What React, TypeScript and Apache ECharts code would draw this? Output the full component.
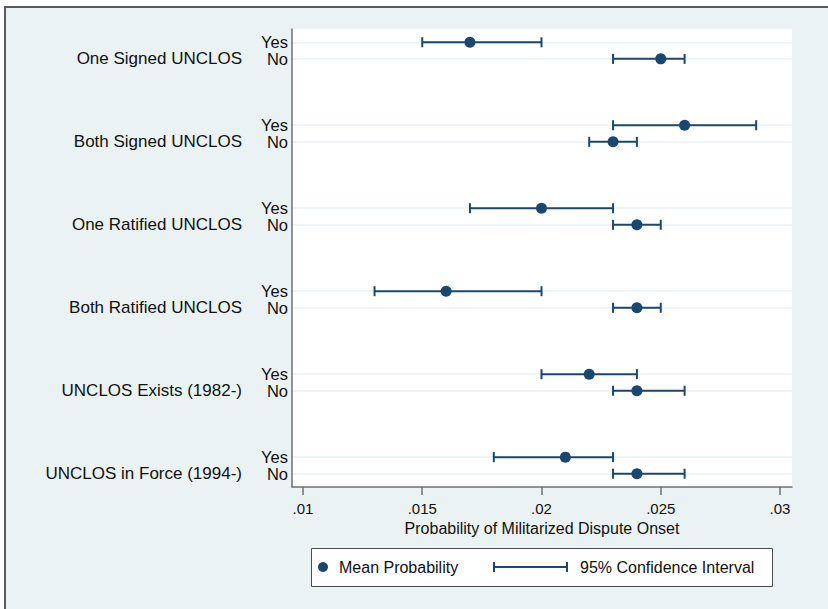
import React, { useEffect, useRef } from "react";
import * as echarts from "echarts";

const groups = [
  "One Signed UNCLOS",
  "Both Signed UNCLOS",
  "One Ratified UNCLOS",
  "Both Ratified UNCLOS",
  "UNCLOS Exists (1982-)",
  "UNCLOS in Force (1994-)",
];
const yesMean = [0.017, 0.026, 0.02, 0.016, 0.022, 0.021];
const yesLow = [0.015, 0.023, 0.017, 0.013, 0.02, 0.018];
const yesHigh = [0.02, 0.029, 0.023, 0.02, 0.024, 0.023];
const noMean = [0.025, 0.023, 0.024, 0.024, 0.024, 0.024];
const noLow = [0.023, 0.022, 0.023, 0.023, 0.023, 0.023];
const noHigh = [0.026, 0.024, 0.025, 0.025, 0.026, 0.026];
const xTicks = [0.01, 0.015, 0.02, 0.025, 0.03];

const NAVY = "#1a476f";
const BG = "#eaf2f3";
const FONT = "'Liberation Sans', Arial, Helvetica, sans-serif";

export default function App() {
  const ref = useRef<HTMLDivElement>(null);
  useEffect(() => {
    if (!ref.current) return;
    const chart = echarts.init(ref.current, undefined, { renderer: "svg" });
    const rowPos: number[] = [];
    const yesPos: number[] = [];
    const noPos: number[] = [];
    const meanData: number[][] = [];
    const ciData: number[][] = [];
    groups.forEach((g, i) => {
      const yp = i * 5;
      const np = i * 5 + 1;
      rowPos.push(yp, np);
      yesPos.push(yp);
      noPos.push(np);
      meanData.push([yesMean[i], yp], [noMean[i], np]);
      ciData.push([yp, yesLow[i], yesHigh[i]], [np, noLow[i], noHigh[i]]);
    });
    const yMin = -0.8;
    const yMax = 26.8;
    const xMin = 0.009539;
    const xMax = 0.030503;
    const labelBase = {
      showMinLabel: true,
      showMaxLabel: true,
      margin: 4,
      fontSize: 16.5,
      color: "#111",
      fontFamily: FONT,
    };
    const hiddenAxis = {
      type: "value",
      inverse: true,
      min: yMin,
      max: yMax,
      position: "left",
      axisLine: { show: false, onZero: false },
      splitLine: { show: false },
    };
    chart.setOption({
      animation: false,
      backgroundColor: BG,
      textStyle: { fontFamily: FONT },
      graphic: [
        { type: "rect", shape: { x: 0, y: 0, width: 828, height: 6 }, style: { fill: "#fff" }, silent: true },
        { type: "rect", shape: { x: 0, y: 0, width: 4, height: 609 }, style: { fill: "#fff" }, silent: true },
        { type: "line", shape: { x1: 4, y1: 7, x2: 828, y2: 7 }, style: { stroke: "#5a5a5a", lineWidth: 2 }, silent: true },
        { type: "line", shape: { x1: 5, y1: 6, x2: 5, y2: 609 }, style: { stroke: "#5a5a5a", lineWidth: 2 }, silent: true },
        {
          type: "rect",
          shape: { x: 311.5, y: 548.5, width: 461, height: 38 },
          style: { fill: "#fff", stroke: "#4a4a4a", lineWidth: 1 },
          silent: true,
          z: 0,
        },
      ],
      grid: {
        left: 292,
        top: 29,
        right: 36,
        bottom: 122,
        show: true,
        backgroundColor: "#fff",
        borderWidth: 0,
      },
      xAxis: {
        type: "value",
        min: xMin,
        max: xMax,
        axisLine: { show: true, onZero: false, lineStyle: { color: "#707070", width: 1.5 } },
        axisTick: { show: true, length: 8, customValues: xTicks, lineStyle: { color: "#707070", width: 1.5 } },
        splitLine: { show: false },
        axisLabel: {
          customValues: xTicks,
          showMinLabel: true,
          showMaxLabel: true,
          margin: 14,
          fontSize: 15,
          color: "#111",
          fontFamily: FONT,
          formatter: (v: number) => String(Math.round(v * 1000) / 1000).replace(/^0\./, "."),
        },
        name: "Probability of Militarized Dispute Onset",
        nameLocation: "middle",
        nameGap: 32,
        nameTextStyle: { fontSize: 16, color: "#111", fontFamily: FONT },
      },
      yAxis: [
        {
          type: "value",
          inverse: true,
          min: yMin,
          max: yMax,
          position: "left",
          axisLine: { show: true, onZero: false, lineStyle: { color: "#707070", width: 1.5 } },
          axisTick: { show: false, customValues: rowPos },
          splitLine: { show: true, lineStyle: { color: BG, width: 1.5 } },
          axisLabel: {
            ...labelBase,
            customValues: yesPos,
            formatter: () => "Yes",
          },
        },
        {
          ...hiddenAxis,
          offset: 0,
          axisTick: { show: false, customValues: noPos },
          axisLabel: {
            ...labelBase,
            customValues: noPos,
            formatter: () => "No",
          },
        },
        {
          ...hiddenAxis,
          offset: 46,
          axisTick: { show: false, customValues: noPos },
          axisLabel: {
            ...labelBase,
            customValues: noPos,
            fontSize: 17,
            padding: [3, 0, 0, 0],
            formatter: (v: number) => groups[Math.floor(Math.round(v) / 5)] ?? "",
          },
        },
      ],
      legend: [
        {
          data: [{ name: "Mean Probability", icon: "circle" }],
          left: 318,
          top: 559,
          padding: 0,
          itemWidth: 22,
          itemHeight: 10,
          textStyle: { fontSize: 16, color: "#111", fontFamily: FONT },
          selectedMode: false,
        },
        {
          data: [
            {
              name: "95% Confidence Interval",
              icon: "path://M0,0h2v10h-2z M2,4h71v2h-71z M73,0h2v10h-2z",
              itemStyle: { color: NAVY },
            },
          ],
          left: 493,
          top: 559,
          padding: 0,
          itemWidth: 75,
          itemHeight: 10,
          textStyle: { fontSize: 16, color: "#111", fontFamily: FONT, padding: [0, 0, 0, 7] },
          selectedMode: false,
        },
      ],
      series: [
        {
          name: "95% Confidence Interval",
          type: "custom",
          xAxisIndex: 0,
          yAxisIndex: 0,
          data: ciData,
          encode: { x: [1, 2], y: 0 },
          itemStyle: { color: NAVY },
          renderItem: (params: any, api: any) => {
            const y = api.value(0);
            const p1 = api.coord([api.value(1), y]);
            const p2 = api.coord([api.value(2), y]);
            const h = 5;
            const st = { stroke: NAVY, lineWidth: 2 };
            return {
              type: "group",
              children: [
                { type: "line", shape: { x1: p1[0], y1: p1[1], x2: p2[0], y2: p2[1] }, style: st },
                { type: "line", shape: { x1: p1[0], y1: p1[1] - h, x2: p1[0], y2: p1[1] + h }, style: st },
                { type: "line", shape: { x1: p2[0], y1: p2[1] - h, x2: p2[0], y2: p2[1] + h }, style: st },
              ],
            };
          },
          z: 2,
        },
        {
          name: "Mean Probability",
          type: "scatter",
          xAxisIndex: 0,
          yAxisIndex: 0,
          data: meanData,
          symbol: "circle",
          symbolSize: 11,
          itemStyle: { color: NAVY, opacity: 1 },
          z: 3,
        },
      ],
    });
    return () => chart.dispose();
  }, []);
  return <div ref={ref} style={{ position: "absolute", left: 0, top: 0, width: 828, height: 609 }} />;
}
